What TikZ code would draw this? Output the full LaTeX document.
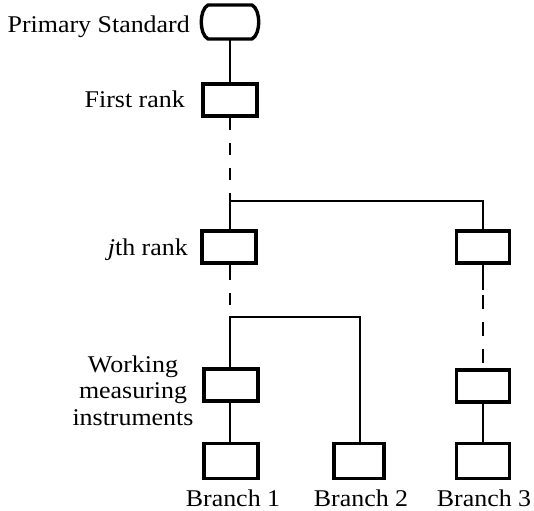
\documentclass[tikz,border=0pt]{standalone}
\usepackage{fontspec}
\setmainfont{Liberation Serif}[FakeStretch=1.08]
\begin{document}
\begin{tikzpicture}[x=1pt,y=-1pt,
  box/.style={draw,line width=3.4pt,minimum width=54pt,minimum height=32pt,inner sep=0pt},
  conn/.style={line width=2.4pt},
  dconn/.style={line width=2.4pt,dash pattern=on 12pt off 13pt},
  lbl/.style={font=\fontsize{24}{26.5}\selectfont,inner sep=0pt}]
\useasboundingbox (0,0) rectangle (534,510);
% boxes
\node[minimum width=56pt,minimum height=34pt,inner sep=0pt] (ps) at (230,22) {};
\draw[line width=3.4pt,line join=round]
  (208,5) -- (252,5) .. controls (261,10) and (261,34) .. (252,39)
  -- (208,39) .. controls (199,34) and (199,10) .. cycle;
\node[box] (fr) at (230,100) {};
\node[box] (jr) at (229,247) {};
\node[box,minimum width=53pt] (jr3) at (483,247) {};
\node[box] (b1u) at (231,385) {};
\node[box,minimum width=53pt] (b3u) at (483,386) {};
\node[box,minimum height=35pt] (b1) at (231,461) {};
\node[box,minimum width=50pt,minimum height=35pt] (b2) at (359,461) {};
\node[box,minimum width=53pt,minimum height=35pt] (b3) at (483,461) {};
% junction coordinates
\coordinate (h1l) at (230,201);
\coordinate (h1r) at (483,201);
\coordinate (h2l) at (230,317);
\coordinate (h2r) at (360,317);
\coordinate (s1) at (230,280);
\coordinate (s3) at (483,290);
% connectors
\draw[conn] (ps.south) -- (fr.north);
\draw[dconn] (fr.south) -- (h1l);
\draw[conn] (jr.north -| h1l) -- (h1l) -- (h1r) -- (jr3.north);
\draw[conn] (jr.south -| h2l) -- (s1);
\draw[dconn,dash phase=-13pt] (s1) -- (h2l);
\draw[conn] (b1u.north -| h2l) -- (h2l) -- (h2r) -- (b2.north -| h2r);
\draw[conn] (jr3.south) -- (s3);
\draw[line width=2.4pt,dash pattern=on 14pt off 13pt,dash phase=-5pt] (s3) -- (b3u.north);
\draw[conn] (b1u.south -| h2l) -- (b1.north -| h2l);
\draw[conn] (b3u.south) -- (b3.north);
% labels
\node[lbl,anchor=base east] (lps) at (190,33) {Primary Standard};
\node[lbl,anchor=base east] (lfr) at (185,108) {First rank};
\node[lbl,anchor=base east] (ljr) at (188,255) {\textit{j}th rank};
\node[lbl,align=center,anchor=base] (lw) at (133,425) {Working\\measuring\\instruments};
\node[lbl,anchor=base] (lb1) at (233,506) {Branch 1};
\node[lbl,anchor=base] (lb2) at (361,506) {Branch 2};
\node[lbl,anchor=base] (lb3) at (484,506) {Branch 3};
\end{tikzpicture}
\end{document}
